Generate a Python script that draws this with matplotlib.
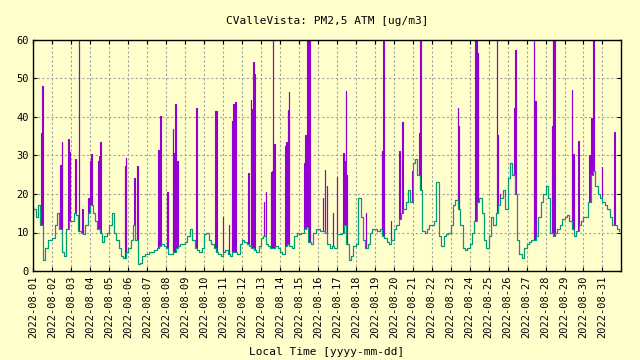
# CValleVista PM2.5 ATM, August 2022 -- two sensor channels (A purple, B green)
import pandas as pd
import matplotlib
matplotlib.use("Agg")
import matplotlib.pyplot as plt
import matplotlib.dates as mdates

# channel B baseline, every 3 hours (8 values per day)
green_by_day = [
    [16, 14, 17, 12, 3, 6, 8, 8],           # 08-01
    [8.5, 12, 15, 11, 5, 4, 11, 13],        # 08-02
    [13, 15, 14.5, 10.5, 10, 9.5, 12, 15],  # 08-03
    [17, 15, 13, 11, 10, 7.5, 9, 10],       # 08-04
    [12, 15, 10, 8, 6, 4, 3.5, 5],          # 08-05
    [6, 8, 12, 8, 1.8, 2, 4, 4.5],          # 08-06
    [4.5, 5, 5, 5.5, 6, 6.5, 7, 6.5],       # 08-07
    [6, 4.5, 4.5, 5, 6, 6.5, 7, 7],         # 08-08
    [7.5, 9, 11, 8, 6, 5.5, 5, 6],          # 08-09
    [9.5, 10, 8, 7, 6, 5, 4.5, 4],          # 08-10
    [5, 5.5, 4.5, 4, 5, 5, 4.5, 7],         # 08-11
    [8, 7.5, 7, 6.5, 6, 5.5, 5, 6.5],       # 08-12
    [8.5, 9, 7, 6.5, 6, 6, 6.5, 6],         # 08-13
    [5, 4.5, 6.5, 7, 6.5, 6, 9, 10],        # 08-14
    [9.5, 10, 11, 11.5, 7.5, 7, 10, 11],    # 08-15
    [11, 10.5, 10.5, 10, 7, 6, 6.5, 6],     # 08-16
    [9.5, 9.5, 10, 12, 7, 3, 4, 6.5],       # 08-17
    [7, 19, 14, 8, 6, 7, 10, 11],           # 08-18
    [11, 10.5, 11, 9, 8.5, 7.5, 7, 8],      # 08-19
    [11, 12, 13.5, 15, 16, 18, 21, 18],     # 08-20
    [28, 29, 25, 21, 10.5, 10, 11, 12],     # 08-21
    [12, 13, 23, 9, 6.5, 9, 9.5, 10],       # 08-22
    [12, 17, 18.5, 16, 12, 6, 5.5, 6],      # 08-23
    [7, 10, 13, 18, 19, 15, 8, 6],          # 08-24
    [9, 14, 12, 15, 17, 19, 21, 16],        # 08-25
    [24, 28, 25, 20, 8, 4.5, 3.5, 6],       # 08-26
    [7, 7.5, 8, 8, 9, 14, 18, 20],          # 08-27
    [22, 19, 10, 9, 10, 11, 12, 13.5],      # 08-28
    [14, 14.5, 13, 11, 9, 10.5, 12, 13],    # 08-29
    [14, 14, 18, 25, 26, 22, 20, 19],       # 08-30
    [18, 17, 16, 14, 12, 12, 11, 10.5],     # 08-31
]

# channel A short spikes above the common baseline: (time, value)
spike_times = [
    "08-01 10:06", "08-01 11:22", "08-01 12:15",
    "08-02 10:06", "08-02 11:52", "08-02 19:26", "08-02 20:27", "08-02 21:28",
    "08-03 05:03", "08-03 09:20", "08-03 10:06", "08-03 14:08", "08-03 21:44",
    "08-04 00:00", "08-04 01:16", "08-04 10:06", "08-04 11:22", "08-04 12:38", "08-04 13:31",
    "08-05 19:28", "08-05 20:43", "08-05 21:29",
    "08-06 07:12", "08-06 11:22",
    "08-07 13:54", "08-07 15:10", "08-07 16:55",
    "08-08 01:31", "08-08 08:50", "08-08 10:06", "08-08 11:22", "08-08 13:54",
    "08-09 13:54",
    "08-10 13:54", "08-10 15:40", "08-10 23:37",
    "08-11 07:12", "08-11 11:22", "08-11 12:38", "08-11 13:54", "08-11 15:10",
    "08-12 07:35", "08-12 11:53", "08-12 12:38", "08-12 13:54", "08-12 15:10",
    "08-13 03:24", "08-13 05:56", "08-13 12:14", "08-13 14:24", "08-13 15:10", "08-13 16:25",
    "08-14 06:19", "08-14 07:35", "08-14 09:43", "08-14 11:22",
    "08-15 06:19", "08-15 07:35", "08-15 10:06", "08-15 11:37", "08-15 13:08",
    "08-16 06:00", "08-16 08:28", "08-16 11:00", "08-16 18:35", "08-16 23:37",
    "08-17 07:35", "08-17 08:50", "08-17 10:06", "08-17 11:22", "08-17 12:15",
    "08-18 12:15",
    "08-19 08:50", "08-19 10:06", "08-19 20:00",
    "08-20 07:12", "08-20 10:06", "08-20 23:37",
    "08-21 07:35", "08-21 09:06",
    "08-23 08:50", "08-23 10:06",
    "08-24 07:12", "08-24 08:28", "08-24 10:06",
    "08-25 10:06", "08-25 11:22", "08-25 14:54",
    "08-26 08:28", "08-26 09:43",
    "08-27 08:50", "08-27 10:36",
    "08-28 07:35", "08-28 08:50", "08-28 10:22",
    "08-29 08:50", "08-29 10:36", "08-29 17:18",
    "08-30 07:12", "08-30 09:20", "08-30 10:36", "08-30 11:53", "08-30 12:38",
    "08-30 13:54", "08-30 23:14",
    "08-31 15:10",
]
spike_values = [
    35.9, 48, 29.7,
    27.5, 33.5, 28.3, 34.3, 30.8,
    29.1, 60, 60, 16, 19,
    28.6, 30.4, 28.6, 29.9, 33.5, 29,
    27.2, 28.6, 29.4,
    24, 27.2,
    31.4, 31.4, 40.3,
    20.5, 36.9, 30.6, 43.3, 28.6,
    42.3,
    41.6, 41.6, 14,
    12, 39, 43.3, 33, 43.8,
    25.4, 44.4, 42, 54.3, 51.2,
    18, 20.5, 25.7, 26, 60, 33,
    32.4, 33.5, 41.8, 46.5,
    28, 35.3, 60, 60, 60,
    19, 26.2, 22, 15, 24.4,
    30.6, 28.3, 28.5, 46.8, 25,
    15,
    31.2, 60, 13,
    31.2, 38.7, 26,
    35.9, 60,
    42.2, 37.6,
    60, 60, 56.5,
    60, 35.3, 20,
    42.4, 57.4,
    59.6, 44.2,
    37.5, 60, 60,
    47, 30.4, 33.6,
    30, 39.7, 39.5, 60, 60,
    26, 27,
    36,
]

BG = "#ffffcc"
PURPLE = "#9400d3"
GREEN = "#009e73"
MONO = "DejaVu Sans Mono"

green_vals = [v for day in green_by_day for v in day]
green_t = pd.date_range("2022-08-01", periods=len(green_vals), freq="3h")
green = pd.Series(green_vals, index=green_t)

# purple follows the baseline, with one-hour spikes on top
sp_t = pd.to_datetime(["2022-" + s for s in spike_times])
ends = sp_t + pd.Timedelta(hours=1)
idx = green.index.union(sp_t).union(ends)
purple = green.reindex(idx).ffill()
purple.loc[sp_t] = spike_values

fig = plt.figure(figsize=(6.4, 3.6), dpi=100, facecolor=BG)
ax = fig.add_axes([0.052, 0.247, 0.919, 0.643])
ax.set_facecolor(BG)

ax.plot(purple.index, purple.values, color=PURPLE, lw=0.8, drawstyle="steps-post")
ax.plot(green.index, green.values, color=GREEN, lw=0.8, drawstyle="steps-post")

ax.set_xlim(pd.Timestamp("2022-08-01"), pd.Timestamp("2022-09-01"))
ax.set_ylim(0, 60)
ax.set_yticks(range(0, 61, 10))
ax.xaxis.set_major_locator(mdates.DayLocator(bymonthday=range(1, 32)))
ax.xaxis.set_major_formatter(mdates.DateFormatter("%Y-%m-%d"))
ticks = ax.get_xticks()
ax.set_xticks(ticks[:-1])

ax.grid(True, color="#a0a0a0", linestyle=(0, (2, 2)), lw=0.8)
ax.tick_params(direction="in", length=3, width=0.8, top=True, right=True,
               labelsize=7.5, colors="black", pad=3)
for lab in ax.get_xticklabels():
    lab.set_rotation(90)
    lab.set_family(MONO)
for lab in ax.get_yticklabels():
    lab.set_family(MONO)
for sp in ax.spines.values():
    sp.set_linewidth(1.0)

ax.set_title("CValleVista: PM2,5 ATM [ug/m3]", family=MONO, fontsize=8, pad=11)
fig.text(0.51, 0.022, "Local Time [yyyy-mm-dd]", family=MONO, fontsize=8,
         ha="center", va="center")

fig.savefig("out.png", dpi=100, facecolor=BG)
